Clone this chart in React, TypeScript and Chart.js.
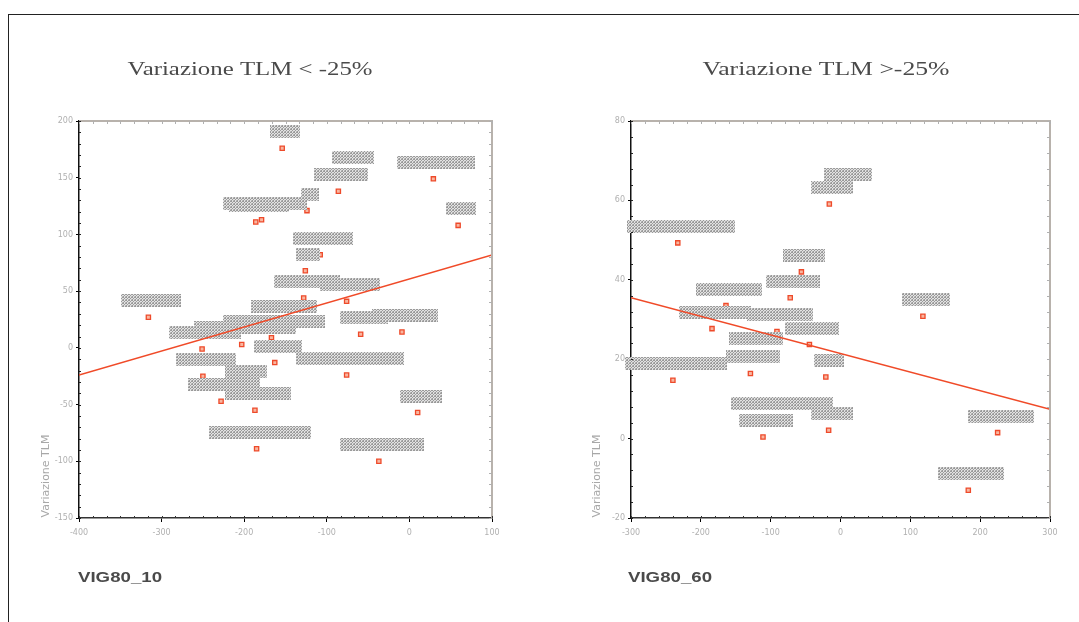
import { useEffect, useRef } from "react";
import { Chart, registerables } from "chart.js";

Chart.register(...registerables);

// ---------- Left panel data ----------
const leftTitle = "Variazione TLM < -25%";
const leftXLabel = "VIG80_10";
const leftX = [-154, -72, 29, -86, -124, -186, -179, 59, -108, -126, -128, -76, -316, -156, -59, -9, -167, -203, -251, -163, -76, -250, -228, -201, -187, 10, -185, -37];
const leftY = [176, 153, 149, 138, 121, 111, 113, 108, 82, 68, 44, 41, 27, 22, 12, 14, 9, 3, -1, -13, -24, -25, -47, -35, -55, -57, -89, -100];
const leftLabelChars = [5, 7, 13, 9, 3, 10, 14, 5, 10, 4, 11, 10, 10, 11, 8, 11, 17, 17, 12, 8, 18, 10, 12, 7, 11, 7, 17, 14];
const leftFitX = [-400, 100];
const leftFitY = [-24, 82];
const leftXTicks = [-400, -300, -200, -100, 0, 100];
const leftYTicks = [-150, -100, -50, 0, 50, 100, 150, 200];

// ---------- Right panel data ----------
const rightTitle = "Variazione TLM >-25%";
const rightXLabel = "VIG80_60";
const rightX = [-16, 7, -233, -56, -72, 118, -164, -184, -44.5, -91, -129, -125, -240, -21, -17, -111, -88, 225, 183];
const rightY = [59.1, 62.4, 49.3, 42, 35.5, 30.8, 33.5, 27.7, 23.7, 27, 16.4, 21, 14.7, 15.5, 2.1, 0.4, 4.6, 1.5, -13];
const rightLabelChars = [7, 8, 18, 7, 9, 8, 11, 12, 9, 11, 9, 9, 17, 5, 7, 9, 17, 11, 11];
const rightFitX = [-300, 300];
const rightFitY = [35.5, 7.4];
const rightXTicks = [-300, -200, -100, 0, 100, 200, 300];
const rightYTicks = [-20, 0, 20, 40, 60, 80];

const yAxisTitle = "Variazione TLM";

function makePattern(ctx: CanvasRenderingContext2D) {
  const c = document.createElement("canvas");
  c.width = 3;
  c.height = 3;
  const p = c.getContext("2d")!;
  p.fillStyle = "#e2e2e2";
  p.fillRect(0, 0, 3, 3);
  p.fillStyle = "#9a9a9a";
  p.fillRect(0, 0, 1, 1);
  p.fillRect(2, 0, 1, 1);
  p.fillRect(1, 1, 1, 1);
  p.fillRect(0, 2, 1, 1);
  p.fillStyle = "#bdbdbd";
  p.fillRect(2, 2, 1, 1);
  return ctx.createPattern(c, "repeat");
}

type PanelCfg = {
  title: string;
  xLabel: string;
  xs: number[];
  ys: number[];
  labelChars: number[];
  fitX: number[];
  fitY: number[];
  xTicks: number[];
  yTicks: number[];
  width: number;
  padLeft: number;
  padRight: number;
  titleX: number;
  titleW: number;
  xLabelX: number;
  yTitleX: number;
  xMinor: number;
  yMinor: number;
};

function stretchedText(ctx: CanvasRenderingContext2D, text: string, x: number, y: number, font: string, targetW: number, align: "center" | "left") {
  ctx.save();
  ctx.font = font;
  const w = ctx.measureText(text).width;
  const sx = targetW / w;
  ctx.translate(x, y);
  ctx.scale(sx, 1);
  ctx.textAlign = align;
  ctx.textBaseline = "middle";
  ctx.fillText(text, 0, 0);
  ctx.restore();
}

function Panel({ cfg }: { cfg: PanelCfg }) {
  const ref = useRef<HTMLCanvasElement | null>(null);
  useEffect(() => {
    const canvas = ref.current!;
    const ctx0 = canvas.getContext("2d")!;
    const pattern = makePattern(ctx0);
    const plugin = {
      id: "panelDecor",
      afterDatasetDraw(chart: any, args: any) {
        if (args.index !== 0) return;
        const ctx = chart.ctx;
        const meta = chart.getDatasetMeta(0);
        ctx.save();
        ctx.fillStyle = pattern;
        meta.data.forEach((el: any, i: number) => {
          const w = cfg.labelChars[i] * 6;
          ctx.fillRect(Math.round(el.x + 3 - w / 2), Math.round(el.y - 23), Math.round(w), 13);
        });
        ctx.restore();
      },
      afterDraw(chart: any) {
        const ctx = chart.ctx;
        const a = chart.chartArea;
        const xs = chart.scales.x;
        const ys = chart.scales.y;
        ctx.save();
        // top and right frame
        ctx.strokeStyle = "#b8b2ac";
        ctx.lineWidth = 2;
        ctx.beginPath();
        ctx.moveTo(a.left, a.top);
        ctx.lineTo(a.right, a.top);
        ctx.lineTo(a.right, a.bottom);
        ctx.stroke();
        // minor ticks
        ctx.lineWidth = 1;
        const x0 = cfg.xTicks[0];
        const x1 = cfg.xTicks[cfg.xTicks.length - 1];
        for (let v = x0; v <= x1 + 1e-6; v += cfg.xMinor) {
          const px = Math.round(xs.getPixelForValue(v)) + 0.5;
          ctx.strokeStyle = "#b0b0b0";
          ctx.beginPath();
          ctx.moveTo(px, a.top);
          ctx.lineTo(px, a.top + 3);
          ctx.stroke();
          ctx.strokeStyle = "#333";
          ctx.beginPath();
          ctx.moveTo(px, a.bottom);
          ctx.lineTo(px, a.bottom - 2);
          ctx.stroke();
        }
        const y0 = cfg.yTicks[0];
        const y1 = cfg.yTicks[cfg.yTicks.length - 1];
        for (let v = y0; v <= y1 + 1e-6; v += cfg.yMinor) {
          const py = Math.round(ys.getPixelForValue(v)) + 0.5;
          ctx.strokeStyle = "#b0b0b0";
          ctx.beginPath();
          ctx.moveTo(a.right, py);
          ctx.lineTo(a.right - 3, py);
          ctx.stroke();
          ctx.strokeStyle = "#222";
          ctx.beginPath();
          ctx.moveTo(a.left, py);
          ctx.lineTo(a.left + 2, py);
          ctx.stroke();
        }
        // title
        ctx.fillStyle = "#4a4a4a";
        stretchedText(ctx, cfg.title, cfg.titleX, 70, "19px 'Liberation Serif'", cfg.titleW, "center");
        // x label
        ctx.fillStyle = "#4a4a4a";
        stretchedText(ctx, cfg.xLabel, cfg.xLabelX, 578, "bold 14px 'Liberation Sans'", 84, "left");
        // y title (rotated)
        ctx.save();
        ctx.fillStyle = "#a8a8a8";
        ctx.font = "11px 'DejaVu Sans'";
        ctx.translate(cfg.yTitleX, 476);
        ctx.rotate(-Math.PI / 2);
        ctx.textAlign = "center";
        ctx.textBaseline = "middle";
        ctx.fillText(yAxisTitle, 0, 0);
        ctx.restore();
        ctx.restore();
      },
    };

    const points = cfg.xs.map((x, i) => ({ x, y: cfg.ys[i] }));
    const fit = cfg.fitX.map((x, i) => ({ x, y: cfg.fitY[i] }));
    const tickFont = { size: 8, family: "'DejaVu Sans'" };

    const chart = new Chart(canvas, {
      type: "scatter",
      data: {
        datasets: [
          {
            type: "scatter",
            data: points,
            order: 2,
            pointStyle: "rect",
            pointRadius: 3,
            borderColor: "#ee4a2a",
            backgroundColor: "#f8b6a0",
            borderWidth: 1.3,
          },
          {
            type: "line",
            data: fit,
            order: 1,
            borderColor: "#f04a28",
            borderWidth: 1.5,
            pointRadius: 0,
            fill: false,
          } as any,
        ],
      },
      options: {
        animation: false,
        responsive: false,
        layout: { padding: { left: cfg.padLeft, right: cfg.padRight, top: 121, bottom: 80 } },
        plugins: { legend: { display: false }, tooltip: { enabled: false }, title: { display: false } },
        scales: {
          x: {
            type: "linear",
            min: cfg.xTicks[0],
            max: cfg.xTicks[cfg.xTicks.length - 1],
            afterFit: (s: any) => {
              s.height = 24;
            },
            afterBuildTicks: (s: any) => {
              s.ticks = cfg.xTicks.map((v) => ({ value: v }));
            },
            ticks: { color: "#b0b0b0", font: tickFont, padding: 6, maxRotation: 0 },
            grid: { display: true, drawOnChartArea: false, drawTicks: true, tickLength: 4, color: "#000" },
            border: { display: true, color: "#333", width: 1.5 },
          },
          y: {
            type: "linear",
            min: cfg.yTicks[0],
            max: cfg.yTicks[cfg.yTicks.length - 1],
            afterFit: (s: any) => {
              s.width = 40;
            },
            afterBuildTicks: (s: any) => {
              s.ticks = cfg.yTicks.map((v) => ({ value: v }));
            },
            ticks: { color: "#b0b0b0", font: tickFont, padding: 3 },
            grid: { display: true, drawOnChartArea: false, drawTicks: true, tickLength: 3, color: "#000" },
            border: { display: true, color: "#111", width: 1.5 },
          },
        },
      },
      plugins: [plugin],
    });
    return () => chart.destroy();
  }, [cfg]);
  return <canvas ref={ref} width={cfg.width} height={622} style={{ width: cfg.width, height: 622, display: "block" }} />;
}

const leftCfg: PanelCfg = {
  title: leftTitle,
  xLabel: leftXLabel,
  xs: leftX,
  ys: leftY,
  labelChars: leftLabelChars,
  fitX: leftFitX,
  fitY: leftFitY,
  xTicks: leftXTicks,
  yTicks: leftYTicks,
  width: 540,
  padLeft: 39,
  padRight: 48,
  titleX: 250,
  titleW: 245,
  xLabelX: 78,
  yTitleX: 46,
  xMinor: 100 / 6,
  yMinor: 10,
};

const rightCfg: PanelCfg = {
  title: rightTitle,
  xLabel: rightXLabel,
  xs: rightX,
  ys: rightY,
  labelChars: rightLabelChars,
  fitX: rightFitX,
  fitY: rightFitY,
  xTicks: rightXTicks,
  yTicks: rightYTicks,
  width: 539,
  padLeft: 51,
  padRight: 29,
  titleX: 286,
  titleW: 247,
  xLabelX: 88,
  yTitleX: 57,
  xMinor: 20,
  yMinor: 4,
};

export default function App() {
  return (
    <div style={{ position: "fixed", left: 0, top: 0, width: 1079, height: 622, background: "#fff", overflow: "hidden" }}>
      <div style={{ position: "absolute", left: 8, top: 14, width: 1090, height: 640, border: "1px solid #222", boxSizing: "border-box" }} />
      <div style={{ position: "absolute", left: 0, top: 0 }}>
        <Panel cfg={leftCfg} />
      </div>
      <div style={{ position: "absolute", left: 540, top: 0 }}>
        <Panel cfg={rightCfg} />
      </div>
    </div>
  );
}
